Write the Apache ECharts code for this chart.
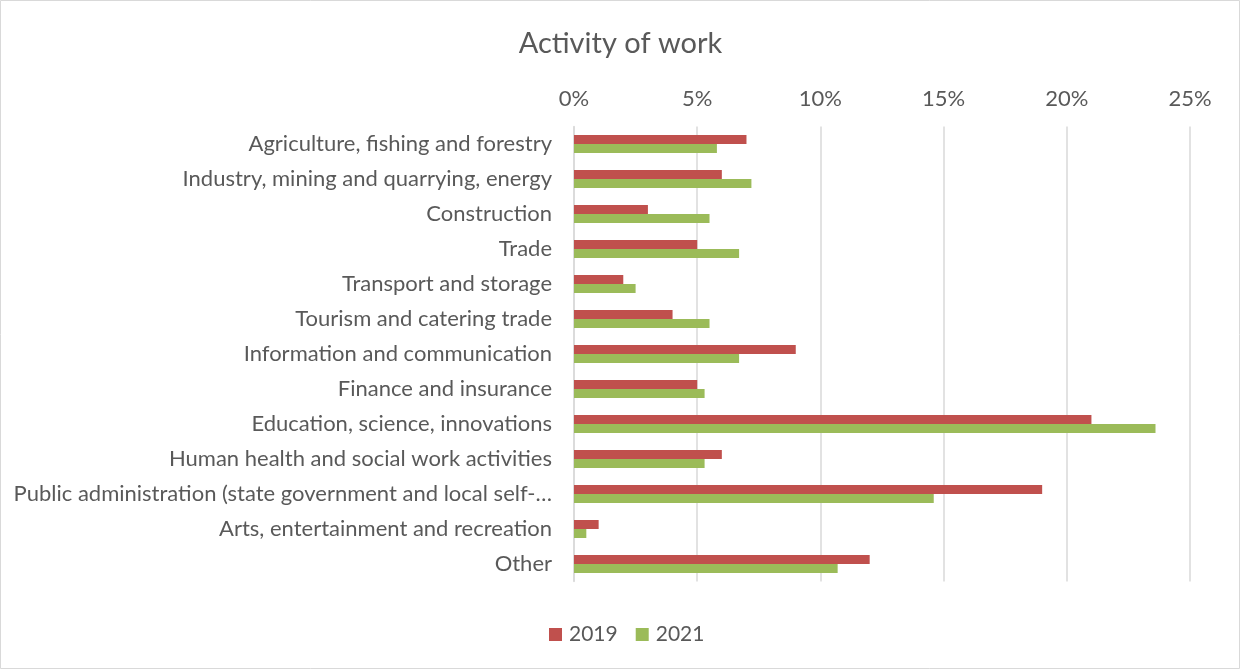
<!DOCTYPE html>
<html>
<head>
<meta charset="utf-8">
<script src="https://cdn.jsdelivr.net/npm/echarts@6/dist/echarts.min.js"></script>
<style>
  html, body { margin: 0; padding: 0; background: #fff; }
  #chart { width: 1241px; height: 670px; }
</style>
</head>
<body>
<div id="chart"></div>
<script>
// Sectors, listed top to bottom
const categories = [
  'Agriculture, fishing and forestry',
  'Industry, mining and quarrying, energy',
  'Construction',
  'Trade',
  'Transport and storage',
  'Tourism and catering trade',
  'Information and communication',
  'Finance and insurance',
  'Education, science, innovations',
  'Human health and social work activities',
  'Public administration (state government and local self-government)',
  'Arts, entertainment and recreation',
  'Other'
];

// Shares of respondents, in percent
const values2019 = [7, 6, 3, 5, 2, 4, 9, 5, 21, 6, 19, 1, 12];
const values2021 = [5.8, 7.2, 5.5, 6.7, 2.5, 5.5, 6.7, 5.3, 23.6, 5.3, 14.6, 0.5, 10.7];

const seriesNames = ['2019', '2021'];
const xTicks = [0, 5, 10, 15, 20, 25];

const FONT = 'Lato, "Noto Sans", sans-serif';
const TEXT = '#595959';

const chart = echarts.init(document.getElementById('chart'), null, { renderer: 'canvas' });

chart.setOption({
  animation: false,
  backgroundColor: '#ffffff',
  textStyle: { fontFamily: FONT, color: TEXT },
  graphic: [{
    type: 'rect',
    shape: { x: 0.5, y: 0.5, width: 1239, height: 668 },
    style: { fill: 'none', stroke: '#d9d9d9', lineWidth: 1 },
    silent: true
  }],
  title: {
    text: 'Activity of work',
    left: 'center',
    top: 24,
    textStyle: { fontFamily: FONT, fontSize: 29, fontWeight: 'normal', color: TEXT }
  },
  legend: {
    bottom: 20,
    left: 544,
    itemWidth: 13,
    itemHeight: 13,
    itemGap: 18,
    icon: 'rect',
    textStyle: { fontFamily: FONT, fontSize: 21, color: TEXT, padding: [0, 0, 0, 2] },
    data: seriesNames
  },
  grid: {
    left: 574,
    right: 51,
    top: 126.5,
    bottom: 88.5,
    containLabel: false
  },
  xAxis: {
    type: 'value',
    position: 'top',
    min: xTicks[0],
    max: xTicks[xTicks.length - 1],
    interval: 5,
    axisLine: { show: false },
    axisTick: { show: false },
    axisLabel: {
      formatter: '{value}%',
      fontFamily: FONT,
      fontSize: 22,
      color: TEXT,
      margin: 17
    },
    splitLine: { show: true, lineStyle: { color: '#d9d9d9', width: 1.5 } }
  },
  yAxis: {
    type: 'category',
    inverse: true,
    data: categories,
    axisLine: { show: true, lineStyle: { color: '#d9d9d9', width: 1.5 } },
    axisTick: { show: false },
    axisLabel: {
      fontFamily: FONT,
      fontSize: 22,
      color: TEXT,
      margin: 22,
      width: 540,
      overflow: 'truncate',
      ellipsis: '…'
    }
  },
  series: [
    {
      name: seriesNames[0],
      type: 'bar',
      data: values2019,
      barWidth: 9,
      barGap: '0%',
      itemStyle: { color: '#c0504d' }
    },
    {
      name: seriesNames[1],
      type: 'bar',
      data: values2021,
      barWidth: 9,
      barGap: '0%',
      itemStyle: { color: '#9bbb59' }
    }
  ]
});
</script>
</body>
</html>
